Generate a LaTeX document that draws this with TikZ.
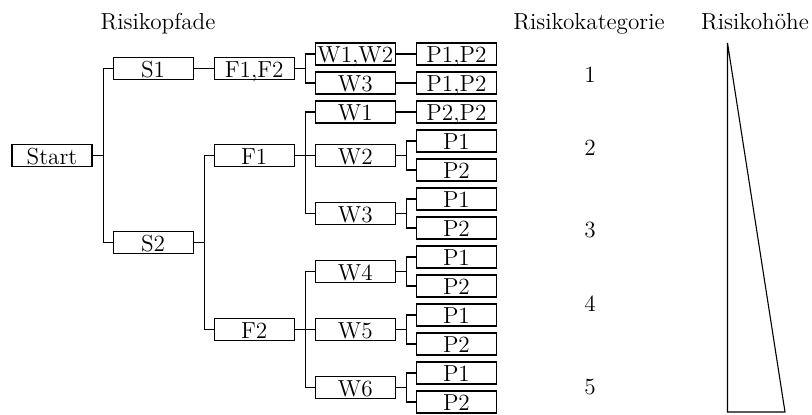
\documentclass[tikz,border=0pt]{standalone}
\begin{document}
\begin{tikzpicture}[x=0.5pt,y=-0.5pt,
  font=\fontsize{11.6}{14}\selectfont,
  line width=0.55pt,
  box/.style={draw, minimum width=40pt, minimum height=11pt, inner sep=0pt,
    text height=9.2pt, text depth=0.3pt},
  head/.style={anchor=base, inner sep=0pt},
  cat/.style={inner sep=0pt},
  link/.style={line width=0.55pt}]
\useasboundingbox (0,0) rectangle (812,414);

% headers
\node[head] (h1) at (158,29.5) {Risikopfade};
\node[head] (h2) at (589,29.5) {Risikokategorie};
\node[head] (h3) at (755,29.5) {Risikoh\"ohe};

% column 0/1/2
\node[box] (start) at (52,155.5) {Start};
\node[box] (s1) at (153.1,68.5) {S1};
\node[box] (s2) at (153.1,242.5) {S2};
\node[box] (f12) at (254.2,68.5) {F1,F2};
\node[box] (f1) at (254.2,155.5) {F1};
\node[box] (f2) at (254.2,329.5) {F2};

% W column
\node[box] (wa) at (355.3,54) {W1,W2};
\node[box] (wb) at (355.3,83) {W3};
\node[box] (w1) at (355.3,112) {W1};
\node[box] (w2) at (355.3,155.5) {W2};
\node[box] (w3) at (355.3,213.5) {W3};
\node[box] (w4) at (355.3,271.5) {W4};
\node[box] (w5) at (355.3,329.5) {W5};
\node[box] (w6) at (355.3,387.5) {W6};

% P column
\node[box] (pa) at (456.4,54) {P1,P2};
\node[box] (pb) at (456.4,83) {P1,P2};
\node[box] (pc) at (456.4,112) {P2,P2};
\node[box] (p21) at (456.4,141) {P1};
\node[box] (p22) at (456.4,170) {P2};
\node[box] (p31) at (456.4,199) {P1};
\node[box] (p32) at (456.4,228) {P2};
\node[box] (p41) at (456.4,257) {P1};
\node[box] (p42) at (456.4,286) {P2};
\node[box] (p51) at (456.4,315) {P1};
\node[box] (p52) at (456.4,344) {P2};
\node[box] (p61) at (456.4,373) {P1};
\node[box] (p62) at (456.4,402) {P2};

% connectors
\foreach \p/\c in {start/s1,start/s2,s1/f12,s2/f1,s2/f2,
  f12/wa,f12/wb,f1/w1,f1/w2,f1/w3,f2/w4,f2/w5,f2/w6,
  wa/pa,wb/pb,w1/pc,w2/p21,w2/p22,w3/p31,w3/p32,
  w4/p41,w4/p42,w5/p51,w5/p52,w6/p61,w6/p62}
  \draw[link] (\p.east) -- ++(10.5,0) |- (\c.west);

% categories
\node[cat] (k1) at (590,75) {1};
\node[cat] (k2) at (590,148) {2};
\node[cat] (k3) at (590,230) {3};
\node[cat] (k4) at (590,304) {4};
\node[cat] (k5) at (590,387) {5};

% risk height triangle
\draw[line width=0.55pt] (727.5,43) -- (727.5,412) -- (785,412) -- cycle;
\end{tikzpicture}
\end{document}
